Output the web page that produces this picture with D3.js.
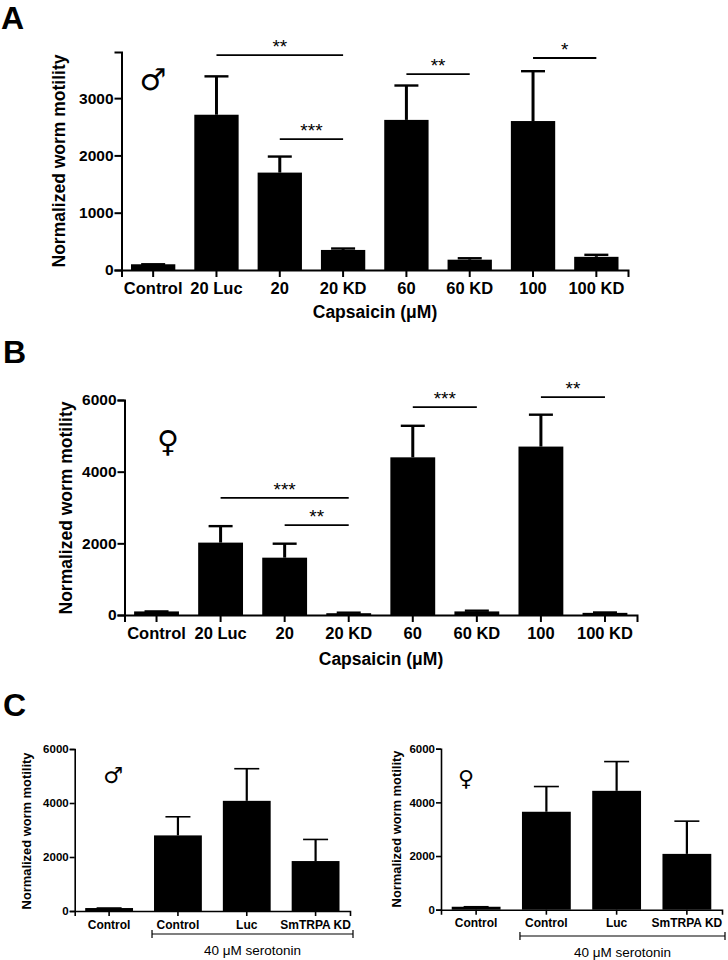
<!DOCTYPE html>
<html>
<head>
<meta charset="utf-8">
<script src="https://cdnjs.cloudflare.com/ajax/libs/d3/7.8.5/d3.min.js"></script>
<style>
html, body { margin: 0; padding: 0; background: #fff; }
svg { display: block; }
text { font-family: "Liberation Sans", Arial, sans-serif; fill: #000; }
</style>
</head>
<body>
<svg width="728" height="960"></svg>
<script>
// panel A + B share categories
const capsaicinLabels = ['Control', '20 Luc', '20', '20 KD', '60', '60 KD', '100', '100 KD']
const serotoninLabels = ['Control', 'Control', 'Luc', 'SmTRPA KD']

const maleValues = [100, 2710, 1700, 350, 2620, 180, 2600, 230]
const maleErrors = [100, 3380, 1980, 375, 3220, 205, 3470, 265]
const maleTicks = [0, 1000, 2000, 3000]
// from, to (category index), height in data units, stars
const maleSig = [[1, 3, 3750, '**'], [2, 3, 2285, '***'], [4, 5, 3420, '**'], [6, 7, 3700, '*']]

const femaleValues = [100, 2020, 1600, 50, 4400, 100, 4700, 60]
const femaleErrors = [100, 2480, 1990, 65, 5280, 120, 5590, 70]
const bigTicks = [0, 2000, 4000, 6000]
const femaleSig = [[1, 3, 3270, '***'], [2, 3, 2510, '**'], [4, 5, 5800, '***'], [6, 7, 6080, '**']]

const maleSeroValues = [110, 2800, 4080, 1850]
const maleSeroErrors = [110, 3490, 5270, 2650]
const femaleSeroValues = [110, 3650, 4430, 2080]
const femaleSeroErrors = [110, 4590, 5520, 3300]

const svg = d3.select('svg')

function drawPanel(p) {
    const g = svg.append('g')

    const x = d3.scaleBand()
        .domain(d3.range(p.labels.length))
        .range([p.left, p.right])
        .paddingInner(p.pad)
        .paddingOuter(p.pad / 2)

    const y = d3.scaleLinear()
        .domain([0, p.yMax])
        .range([p.bottom, p.top])

    // bars
    g.selectAll('rect.bar').data(p.values)
        .enter().append('rect')
            .attr('class', 'bar')
            .attr('x', (d, i) => x(i))
            .attr('y', d => y(d))
            .attr('width', x.bandwidth())
            .attr('height', d => y(0) - y(d))
            .attr('fill', '#000')

    // error bars, upper side only
    const cx = i => x(i) + x.bandwidth() / 2
    g.selectAll('line.err').data(p.errors)
        .enter().append('line')
            .attr('class', 'err')
            .attr('x1', (d, i) => cx(i))
            .attr('x2', (d, i) => cx(i))
            .attr('y1', (d, i) => y(p.values[i]))
            .attr('y2', d => y(d))
            .attr('stroke', '#000')
            .attr('stroke-width', p.stem)
    g.selectAll('line.cap').data(p.errors)
        .enter().append('line')
            .attr('class', 'cap')
            .attr('x1', (d, i) => cx(i) - p.cap / 2)
            .attr('x2', (d, i) => cx(i) + p.cap / 2)
            .attr('y1', d => y(d))
            .attr('y2', d => y(d))
            .attr('stroke', '#000')
            .attr('stroke-width', p.stem - 0.6)

    const yAxis = g.append('g')
        .attr('transform', `translate(${p.left},0)`)
        .call(d3.axisLeft(y).tickValues(p.ticks).tickSize(p.tick).tickPadding(1).tickFormat(d3.format('d')))
    const xAxis = g.append('g')
        .attr('transform', `translate(0,${p.bottom})`)
        .call(d3.axisBottom(x).tickSize(p.tick).tickPadding(p.xPad).tickFormat(i => p.labels[i]))

    for (const a of [yAxis, xAxis]) {
        a.selectAll('path').attr('stroke', '#000').attr('stroke-width', p.stroke)
        a.selectAll('line').attr('stroke', '#000').attr('stroke-width', p.stroke)
        a.selectAll('text')
            .style('font-family', '"Liberation Sans", Arial, sans-serif')
            .style('font-weight', 'bold')
    }
    yAxis.selectAll('text').style('font-size', p.yTickSize + 'px')
    xAxis.selectAll('text').style('font-size', p.xTickSize + 'px')

    // axis title
    g.append('text')
        .attr('transform', `translate(${p.titleX},${(p.titleMid)}) rotate(-90)`)
        .attr('text-anchor', 'middle')
        .attr('font-weight', 'bold')
        .attr('font-size', p.titleSize)
        .text('Normalized worm motility')

    // sex symbol
    g.append('text')
        .attr('x', p.sex[0])
        .attr('y', p.sex[1])
        .attr('text-anchor', 'middle')
        .attr('font-size', p.sex[3])
        .style('font-family', '"DejaVu Sans"')
        .text(p.sex[2])

    // significance lines
    const sig = g.selectAll('g.sig').data(p.sig || [])
        .enter().append('g')
            .attr('class', 'sig')
    sig.append('line')
        .attr('x1', d => cx(d[0]))
        .attr('x2', d => cx(d[1]))
        .attr('y1', d => y(d[2]))
        .attr('y2', d => y(d[2]))
        .attr('stroke', '#000')
        .attr('stroke-width', 1.8)
    sig.append('text')
        .attr('x', d => (cx(d[0]) + cx(d[1])) / 2)
        .attr('y', d => y(d[2]) - 2)
        .attr('text-anchor', 'middle')
        .attr('font-size', 19)
        .text(d => d[3])

    if (p.xTitle) {
        g.append('text')
            .attr('x', p.xTitle[0])
            .attr('y', p.xTitle[1])
            .attr('text-anchor', 'middle')
            .attr('font-weight', 'bold')
            .attr('font-size', 17.5)
            .text('Capsaicin (μM)')
    }

    // bracket under the serotonin bars
    if (p.bracket) {
        const [bx1, bx2, by] = [x(1) - 2, p.right + 3, p.bracket]
        g.append('path')
            .attr('d', `M${bx1},${by - 4}V${by + 4}M${bx1},${by}H${bx2}M${bx2},${by - 4}V${by + 4}`)
            .attr('fill', 'none')
            .attr('stroke', '#000')
            .attr('stroke-width', 1.2)
        g.append('text')
            .attr('x', (bx1 + bx2) / 2)
            .attr('y', p.bracket + 21)
            .attr('text-anchor', 'middle')
            .attr('font-size', 13.5)
            .text('40 μM serotonin')
    }
}

drawPanel({
    labels: capsaicinLabels, values: maleValues, errors: maleErrors, ticks: maleTicks, sig: maleSig,
    left: 121.5, right: 628, top: 52, bottom: 270, yMax: 3805, pad: 0.3,
    stroke: 2, stem: 3, cap: 24, tick: 7, xPad: 5, yTickSize: 15.5, xTickSize: 16.5,
    titleX: 65, titleMid: 161, titleSize: 17.5,
    sex: [153, 90, '♂', 30], xTitle: [375, 318]
})

drawPanel({
    labels: capsaicinLabels, values: femaleValues, errors: femaleErrors, ticks: bigTicks, sig: femaleSig,
    left: 124.5, right: 637, top: 400, bottom: 615, yMax: 6000, pad: 0.3,
    stroke: 2, stem: 3, cap: 24, tick: 7, xPad: 5, yTickSize: 15.5, xTickSize: 16.5,
    titleX: 72, titleMid: 508, titleSize: 17.5,
    sex: [168, 452, '♀', 30], xTitle: [381, 665]
})

drawPanel({
    labels: serotoninLabels, values: maleSeroValues, errors: maleSeroErrors, ticks: bigTicks,
    left: 74.7, right: 350, top: 749, bottom: 911, yMax: 6000, pad: 0.305,
    stroke: 1.6, stem: 2.2, cap: 25, tick: 5, xPad: 4, yTickSize: 11.5, xTickSize: 12,
    titleX: 31, titleMid: 831, titleSize: 12.9,
    sex: [113, 783, '♂', 22], bracket: 934
})

drawPanel({
    labels: serotoninLabels, values: femaleSeroValues, errors: femaleSeroErrors, ticks: bigTicks,
    left: 441, right: 722, top: 748.7, bottom: 909.7, yMax: 6000, pad: 0.305,
    stroke: 1.6, stem: 2.2, cap: 25, tick: 5, xPad: 4, yTickSize: 11.5, xTickSize: 12,
    titleX: 401, titleMid: 829, titleSize: 12.9,
    sex: [466, 786, '♀', 22], bracket: 936
})

// panel letters
const panelLetters = [['A', 1, 29], ['B', 3, 363], ['C', 3, 716]]
svg.selectAll('text.letter').data(panelLetters)
    .enter().append('text')
        .attr('class', 'letter')
        .attr('x', d => d[1])
        .attr('y', d => d[2])
        .attr('font-weight', 'bold')
        .attr('font-size', 32)
        .text(d => d[0])
</script>
</body>
</html>
